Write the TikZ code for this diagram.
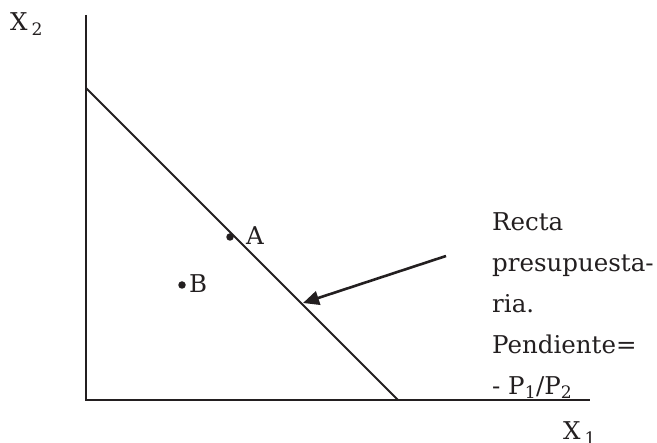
\documentclass[tikz,border=0pt]{standalone}
\usepackage{tikz}
\usetikzlibrary{arrows.meta}
\usepackage{fontspec}
\setmainfont{DejaVu Serif}
\usepackage{xcolor}
\definecolor{Ink}{HTML}{231F20}
\tikzset{
 axis/.style={draw=Ink, line width=2.2pt},
 budget/.style={draw=Ink, line width=1.8pt},
 pointer/.style={draw=Ink, line width=2.6pt, -{Triangle[length=16pt,width=14pt]}},
 dot/.style={circle, fill=Ink, inner sep=0pt, minimum size=7.5pt},
 lbl/.style={inner sep=0pt, text=Ink, font=\fontsize{24.5}{41}\selectfont},
 note/.style={lbl, align=left}
}

\begin{document}
\begin{tikzpicture}[x=1pt,y=-1pt]
\useasboundingbox (0,0) rectangle (657,443);
% axes
\coordinate (ytop) at (86,15);
\coordinate (origin) at (86,400);
\coordinate (xend) at (590,400);
\draw[axis] (ytop) -- (origin) -- (xend);
\node[lbl, anchor=base west] (xtwo) at (10,31) {X\,\textsubscript{2}};
\node[lbl, anchor=base west] (xone) at (563,440) {X\,\textsubscript{1}};
% budget line
\coordinate (bl1) at (86,88);
\coordinate (bl2) at (398,400);
\draw[budget] (bl1) -- (bl2);
% bundles
\node[dot] (ptA) at (230,237) {};
\node[lbl, anchor=base west] (labA) at (246,245) {A};
\node[dot] (ptB) at (182,285) {};
\node[lbl, anchor=base west] (labB) at (189,293) {B};
% explanation
\node[note, anchor=north west] (txt) at (492,212) {Recta\\presupuesta-\\ria.\\Pendiente=\\- P\textsubscript{1}/P\textsubscript{2}};
\coordinate (tail) at (446,256);
\coordinate (tip) at (303,303);
\draw[pointer] (tail) -- (tip);
\end{tikzpicture}
\end{document}
